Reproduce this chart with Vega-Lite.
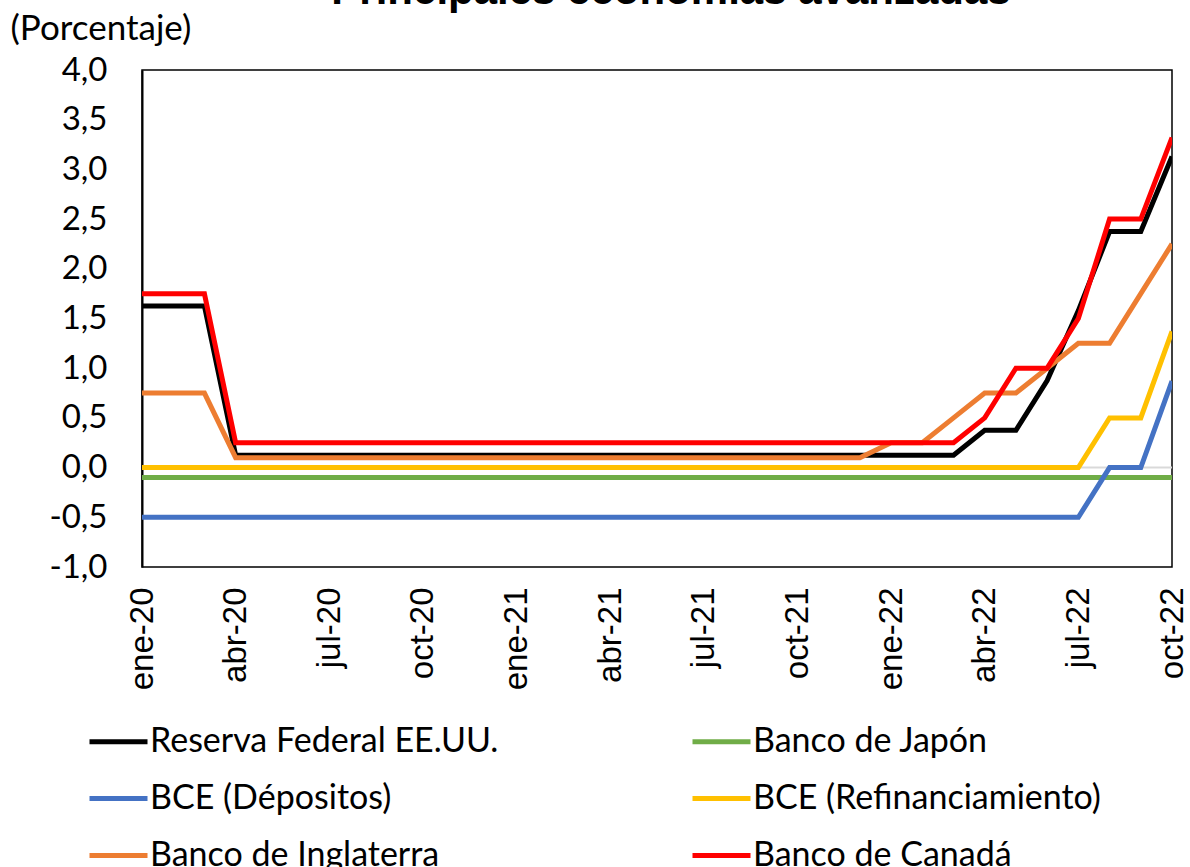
{
  "$schema": "https://vega.github.io/schema/vega-lite/v6.json",
  "width": 1030,
  "height": 497,
  "autosize": "none",
  "padding": {"left": 142, "top": 70, "right": 18, "bottom": 300},
  "background": "white",
  "config": {
    "font": "Lato",
    "view": {"stroke": "#000000", "strokeWidth": 1.5}
  },
  "title": {
    "text": "Principales economías avanzadas",
    "fontSize": 42,
    "fontWeight": "bold",
    "font": "Liberation Sans",
    "color": "#000000",
    "anchor": "middle",
    "offset": 5,
    "dx": 14,
    "dy": 7
  },
  "layer": [
    {
      "data": {"values": [{"cero": 0}]},
      "mark": {"type": "rule", "color": "#d9d9d9", "strokeWidth": 2},
      "encoding": {"y": {"field": "cero", "type": "quantitative", "scale": {"domain": [-1, 4]}}}
    },
    {
      "data": {
        "values": [
          {"mes": "ene-20", "fed": 1.625, "japon": -0.1, "bce_dep": -0.5, "bce_ref": 0, "inglaterra": 0.75, "canada": 1.75},
          {"mes": "feb-20", "fed": 1.625, "japon": -0.1, "bce_dep": -0.5, "bce_ref": 0, "inglaterra": 0.75, "canada": 1.75},
          {"mes": "mar-20", "fed": 1.625, "japon": -0.1, "bce_dep": -0.5, "bce_ref": 0, "inglaterra": 0.75, "canada": 1.75},
          {"mes": "abr-20", "fed": 0.125, "japon": -0.1, "bce_dep": -0.5, "bce_ref": 0, "inglaterra": 0.1, "canada": 0.25},
          {"mes": "may-20", "fed": 0.125, "japon": -0.1, "bce_dep": -0.5, "bce_ref": 0, "inglaterra": 0.1, "canada": 0.25},
          {"mes": "jun-20", "fed": 0.125, "japon": -0.1, "bce_dep": -0.5, "bce_ref": 0, "inglaterra": 0.1, "canada": 0.25},
          {"mes": "jul-20", "fed": 0.125, "japon": -0.1, "bce_dep": -0.5, "bce_ref": 0, "inglaterra": 0.1, "canada": 0.25},
          {"mes": "ago-20", "fed": 0.125, "japon": -0.1, "bce_dep": -0.5, "bce_ref": 0, "inglaterra": 0.1, "canada": 0.25},
          {"mes": "sep-20", "fed": 0.125, "japon": -0.1, "bce_dep": -0.5, "bce_ref": 0, "inglaterra": 0.1, "canada": 0.25},
          {"mes": "oct-20", "fed": 0.125, "japon": -0.1, "bce_dep": -0.5, "bce_ref": 0, "inglaterra": 0.1, "canada": 0.25},
          {"mes": "nov-20", "fed": 0.125, "japon": -0.1, "bce_dep": -0.5, "bce_ref": 0, "inglaterra": 0.1, "canada": 0.25},
          {"mes": "dic-20", "fed": 0.125, "japon": -0.1, "bce_dep": -0.5, "bce_ref": 0, "inglaterra": 0.1, "canada": 0.25},
          {"mes": "ene-21", "fed": 0.125, "japon": -0.1, "bce_dep": -0.5, "bce_ref": 0, "inglaterra": 0.1, "canada": 0.25},
          {"mes": "feb-21", "fed": 0.125, "japon": -0.1, "bce_dep": -0.5, "bce_ref": 0, "inglaterra": 0.1, "canada": 0.25},
          {"mes": "mar-21", "fed": 0.125, "japon": -0.1, "bce_dep": -0.5, "bce_ref": 0, "inglaterra": 0.1, "canada": 0.25},
          {"mes": "abr-21", "fed": 0.125, "japon": -0.1, "bce_dep": -0.5, "bce_ref": 0, "inglaterra": 0.1, "canada": 0.25},
          {"mes": "may-21", "fed": 0.125, "japon": -0.1, "bce_dep": -0.5, "bce_ref": 0, "inglaterra": 0.1, "canada": 0.25},
          {"mes": "jun-21", "fed": 0.125, "japon": -0.1, "bce_dep": -0.5, "bce_ref": 0, "inglaterra": 0.1, "canada": 0.25},
          {"mes": "jul-21", "fed": 0.125, "japon": -0.1, "bce_dep": -0.5, "bce_ref": 0, "inglaterra": 0.1, "canada": 0.25},
          {"mes": "ago-21", "fed": 0.125, "japon": -0.1, "bce_dep": -0.5, "bce_ref": 0, "inglaterra": 0.1, "canada": 0.25},
          {"mes": "sep-21", "fed": 0.125, "japon": -0.1, "bce_dep": -0.5, "bce_ref": 0, "inglaterra": 0.1, "canada": 0.25},
          {"mes": "oct-21", "fed": 0.125, "japon": -0.1, "bce_dep": -0.5, "bce_ref": 0, "inglaterra": 0.1, "canada": 0.25},
          {"mes": "nov-21", "fed": 0.125, "japon": -0.1, "bce_dep": -0.5, "bce_ref": 0, "inglaterra": 0.1, "canada": 0.25},
          {"mes": "dic-21", "fed": 0.125, "japon": -0.1, "bce_dep": -0.5, "bce_ref": 0, "inglaterra": 0.1, "canada": 0.25},
          {"mes": "ene-22", "fed": 0.125, "japon": -0.1, "bce_dep": -0.5, "bce_ref": 0, "inglaterra": 0.25, "canada": 0.25},
          {"mes": "feb-22", "fed": 0.125, "japon": -0.1, "bce_dep": -0.5, "bce_ref": 0, "inglaterra": 0.25, "canada": 0.25},
          {"mes": "mar-22", "fed": 0.125, "japon": -0.1, "bce_dep": -0.5, "bce_ref": 0, "inglaterra": 0.5, "canada": 0.25},
          {"mes": "abr-22", "fed": 0.375, "japon": -0.1, "bce_dep": -0.5, "bce_ref": 0, "inglaterra": 0.75, "canada": 0.5},
          {"mes": "may-22", "fed": 0.375, "japon": -0.1, "bce_dep": -0.5, "bce_ref": 0, "inglaterra": 0.75, "canada": 1.0},
          {"mes": "jun-22", "fed": 0.875, "japon": -0.1, "bce_dep": -0.5, "bce_ref": 0, "inglaterra": 1.0, "canada": 1.0},
          {"mes": "jul-22", "fed": 1.58, "japon": -0.1, "bce_dep": -0.5, "bce_ref": 0, "inglaterra": 1.25, "canada": 1.5},
          {"mes": "ago-22", "fed": 2.375, "japon": -0.1, "bce_dep": 0, "bce_ref": 0.5, "inglaterra": 1.25, "canada": 2.5},
          {"mes": "sep-22", "fed": 2.375, "japon": -0.1, "bce_dep": 0, "bce_ref": 0.5, "inglaterra": 1.75, "canada": 2.5},
          {"mes": "oct-22", "fed": 3.13, "japon": -0.1, "bce_dep": 0.87, "bce_ref": 1.37, "inglaterra": 2.25, "canada": 3.32}
        ]
      },
      "transform": [
        {"fold": ["fed", "japon", "bce_dep", "bce_ref", "inglaterra", "canada"], "as": ["serie", "valor"]}
      ],
      "mark": {"type": "line", "strokeWidth": 5, "strokeJoin": "miter", "clip": true},
      "encoding": {
        "x": {
          "field": "mes",
          "type": "ordinal",
          "sort": null,
          "scale": {"type": "point", "padding": 0},
          "axis": {
            "title": null,
            "values": ["ene-20", "abr-20", "jul-20", "oct-20", "ene-21", "abr-21", "jul-21", "oct-21", "ene-22", "abr-22", "jul-22", "oct-22"],
            "labelAngle": -90,
            "labelFont": "Liberation Sans",
            "labelFontSize": 33,
            "labelColor": "#000000",
            "labelPadding": 20,
            "ticks": false,
            "domain": false,
            "grid": false
          }
        },
        "y": {
          "field": "valor",
          "type": "quantitative",
          "scale": {"domain": [-1, 4], "nice": false, "zero": false},
          "axis": {
            "values": [-1, -0.5, 0, 0.5, 1, 1.5, 2, 2.5, 3, 3.5, 4],
            "labelExpr": "replace(replace(format(datum.value, '.1f'), '.', ','), '−', '-')",
            "labelFontSize": 33,
            "labelColor": "#000000",
            "labelPadding": 35,
            "ticks": false,
            "domain": true,
            "domainColor": "#000000",
            "domainWidth": 2,
            "grid": false,
            "title": "(Porcentaje)",
            "titleAngle": 0,
            "titleAlign": "left",
            "titleBaseline": "middle",
            "titleX": -132,
            "titleY": -42,
            "titleFontSize": 35,
            "titleFontWeight": "normal",
            "titleColor": "#000000"
          }
        },
        "color": {
          "field": "serie",
          "type": "nominal",
          "scale": {
            "domain": ["fed", "japon", "bce_dep", "bce_ref", "inglaterra", "canada"],
            "range": ["#000000", "#70ad47", "#4472c4", "#ffc000", "#ed7d31", "#ff0000"]
          },
          "legend": {
            "title": null,
            "orient": "none",
            "legendX": -55,
            "legendY": 640,
            "columns": 2,
            "direction": "horizontal",
            "symbolType": "stroke",
            "symbolSize": 3364,
            "symbolStrokeWidth": 5,
            "labelFontSize": 34,
            "labelColor": "#000000",
            "labelOffset": 0,
            "labelLimit": 600,
            "columnPadding": 183,
            "rowPadding": 8,
            "labelExpr": "{'fed': 'Reserva Federal EE.UU.', 'japon': 'Banco de Japón', 'bce_dep': 'BCE (Dépositos)', 'bce_ref': 'BCE (Refinanciamiento)', 'inglaterra': 'Banco de Inglaterra', 'canada': 'Banco de Canadá'}[datum.value]"
          }
        }
      }
    }
  ]
}
